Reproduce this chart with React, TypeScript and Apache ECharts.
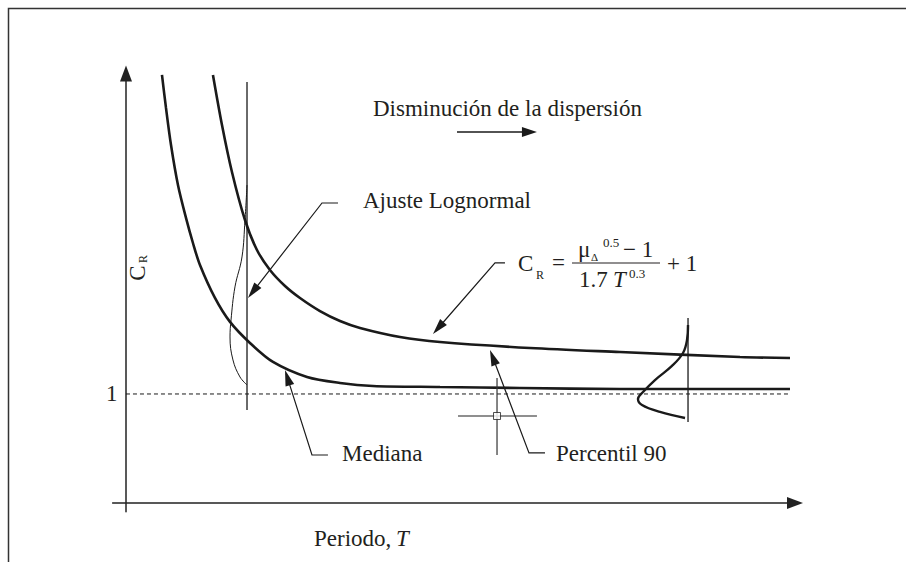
import React, { useEffect, useRef } from "react";
import * as echarts from "echarts";

// Curves in (period T, C_R) units
const medianCurve: number[][] = [
  [0.538, 3.927], [0.598, 3.624], [0.673, 3.284], [0.777, 2.917], [0.897, 2.615],
  [1.001, 2.385], [1.106, 2.183], [1.33, 1.881], [1.555, 1.661], [1.853, 1.468],
  [2.197, 1.294], [2.706, 1.156], [3.199, 1.101], [3.692, 1.073], [4.694, 1.064],
  [5.889, 1.055], [7.384, 1.046], [9.925, 1.046],
];
const percentile90Curve: number[][] = [
  [1.3, 3.927], [1.435, 3.468], [1.584, 3.037], [1.779, 2.596], [1.958, 2.321],
  [2.152, 2.138], [2.377, 1.991], [2.601, 1.881], [2.9, 1.761], [3.199, 1.67],
  [3.498, 1.606], [4.096, 1.523], [4.694, 1.477], [6.039, 1.422], [7.384, 1.385],
  [9.178, 1.339], [9.925, 1.33],
];
const unitLine: number[][] = [[0, 1], [9.925, 1]];
const leftSampleLine: number[][] = [[1.809, 3.862], [1.809, 0.853]];
const leftLognormal: number[][] = [
  [1.809, 2.917], [1.779, 2.596], [1.734, 2.257], [1.629, 1.982], [1.57, 1.679],
  [1.555, 1.523], [1.599, 1.312], [1.704, 1.156], [1.809, 1.083],
];
const rightSampleLine: number[][] = [[8.401, 1.697], [8.401, 0.743]];
const rightLognormal: number[][] = [
  [8.401, 1.633], [8.386, 1.495], [8.326, 1.376], [8.161, 1.257], [7.907, 1.128],
  [7.728, 1.018], [7.653, 0.954], [7.713, 0.899], [7.982, 0.835], [8.356, 0.78],
];
const crossVertical: number[][] = [[5.546, 1.147], [5.546, 0.44]];
const crossHorizontal: number[][] = [[4.963, 0.798], [6.143, 0.798]];
const crossCenter: number[][] = [[5.546, 0.798]];

// Leader lines; the last point of each is the arrow tip
const leaderAjuste: number[][] = [[3.169, 2.752], [2.93, 2.752], [1.824, 1.881]];
const leaderMediana: number[][] = [[3.019, 0.44], [2.78, 0.44], [2.377, 1.22]];
const leaderFormula: number[][] = [[5.665, 2.202], [5.516, 2.202], [4.589, 1.55]];
const leaderPercentil: number[][] = [[6.263, 0.459], [6.024, 0.459], [5.441, 1.404]];
const dispersionArrow: number[][] = [[4.948, 3.404], [6.143, 3.404]];
const leaders = [leaderAjuste, leaderMediana, leaderFormula, leaderPercentil, dispersionArrow];

const yTickLabels = [1];

const INK = "#231f20";
const SERIF = "'Liberation Serif', 'Times New Roman', serif";
const FS = 23;

function txt(text: string, x: number, y: number, size = FS, extra: any = {}) {
  return {
    type: "text",
    x,
    y,
    style: {
      text,
      fontSize: size,
      fontFamily: SERIF,
      fill: INK,
      align: "left",
      verticalAlign: "middle",
      ...extra,
    },
  };
}

function curve(name: string, data: number[][], width: number, extra: any = {}) {
  return {
    name,
    type: "line",
    data,
    symbol: "none",
    smooth: extra.smooth ?? 0,
    lineStyle: { color: "#1a1a1a", width, type: extra.dash ? [4, 3] : "solid" },
    silent: true,
    z: extra.z ?? 3,
  };
}

export default function App() {
  const ref = useRef<HTMLDivElement>(null);

  useEffect(() => {
    if (!ref.current) return;
    const chart = echarts.init(ref.current, null, { renderer: "svg" });

    const option: any = {
      animation: false,
      grid: { left: 112.6, right: 111, top: 73.5, bottom: 50.3 },
      xAxis: {
        type: "value",
        min: -0.2,
        max: 10,
        axisLine: {
          onZero: true,
          lineStyle: { color: "#222", width: 1.5 },
          symbol: ["none", "triangle"],
          symbolSize: [12, 16],
        },
        axisTick: { show: false },
        axisLabel: { show: false },
        splitLine: { show: false },
      },
      yAxis: {
        type: "value",
        min: -0.08,
        max: 3.94,
        axisLine: {
          onZero: true,
          lineStyle: { color: "#222", width: 1.5 },
          symbol: ["none", "triangle"],
          symbolSize: [12, 16],
        },
        axisTick: { show: false },
        axisLabel: {
          show: true,
          customValues: yTickLabels,
          formatter: (v: number) => String(v),
          margin: -5,
          fontSize: FS,
          fontFamily: SERIF,
          color: INK,
        },
        splitLine: { show: false },
      },
      series: [
        curve("Mediana", medianCurve, 2.6, { smooth: 0.3 }),
        curve("Percentil 90", percentile90Curve, 2.6, { smooth: 0.3 }),
        curve("C_R = 1", unitLine, 1, { dash: true, z: 2 }),
        curve("Muestra T1", leftSampleLine, 1.3),
        curve("Ajuste T1", leftLognormal, 1, { smooth: 0.4 }),
        curve("Muestra T2", rightSampleLine, 1.3),
        curve("Ajuste T2", rightLognormal, 2.4, { smooth: 0.4 }),
        {
          type: "line",
          data: crossVertical,
          symbol: "none",
          lineStyle: { color: "#333", width: 1.2 },
          silent: true,
        },
        {
          type: "line",
          data: crossHorizontal,
          symbol: "none",
          lineStyle: { color: "#6a6a6a", width: 1.5 },
          silent: true,
        },
        {
          type: "scatter",
          data: crossCenter,
          symbol: "rect",
          symbolSize: 7,
          itemStyle: { color: "#fff", borderColor: "#222", borderWidth: 1 },
          silent: true,
          z: 5,
        },
        {
          type: "custom",
          data: leaders.map((p) => p[p.length - 1]),
          silent: true,
          z: 6,
          renderItem: (params: any, api: any) => {
            const path = leaders[params.dataIndex];
            const pts = path.map((p) => api.coord(p));
            const tip = pts[pts.length - 1];
            const prev = pts[pts.length - 2];
            const dx = tip[0] - prev[0];
            const dy = tip[1] - prev[1];
            const len = Math.hypot(dx, dy);
            const ux = dx / len;
            const uy = dy / len;
            const isTitleArrow = params.dataIndex === leaders.length - 1;
            const L = isTitleArrow ? 15 : 16;
            const W = (isTitleArrow ? 10 : 9) / 2;
            const base = [tip[0] - ux * L, tip[1] - uy * L];
            const left = [base[0] - uy * W, base[1] + ux * W];
            const right = [base[0] + uy * W, base[1] - ux * W];
            return {
              type: "group",
              children: [
                {
                  type: "polyline",
                  shape: { points: [...pts.slice(0, -1), [tip[0] - ux * 4, tip[1] - uy * 4]] },
                  style: { stroke: "#1a1a1a", lineWidth: isTitleArrow ? 1.5 : 1.2, fill: null },
                },
                {
                  type: "polygon",
                  shape: { points: [tip, left, right] },
                  style: { fill: "#1a1a1a" },
                },
              ],
            };
          },
        },
      ],
      graphic: [
        {
          type: "rect",
          shape: { x: 8.5, y: 8.5, width: 1000, height: 1000 },
          style: { fill: "none", stroke: "#333", lineWidth: 1.5 },
          silent: true,
        },
        txt("Disminución de la dispersión", 373, 108),
        txt("Ajuste Lognormal", 363, 200),
        txt("Mediana", 342, 453),
        txt("Percentil 90", 556, 453),
        txt("Periodo,", 314, 538),
        txt("T", 396, 538, FS, { fontStyle: "italic" }),
        // vertical axis title C_R
        {
          type: "group",
          x: 137,
          y: 265,
          rotation: Math.PI / 2,
          children: [
            txt("C", -8, 0, FS, { align: "center" }),
            txt("R", 2, 6, 12),
          ],
        },
        // C_R = (μ_Δ^0.5 − 1) / (1.7 T^0.3) + 1
        txt("C", 518, 263),
        txt("R", 536, 275, 12),
        txt("=", 552, 262),
        txt("μ", 578, 249),
        txt("Δ", 591, 257, 11),
        txt("0.5", 603, 242, 13),
        txt("− 1", 623, 249),
        {
          type: "line",
          shape: { x1: 572, y1: 263, x2: 660, y2: 263 },
          style: { stroke: INK, lineWidth: 1.2 },
        },
        txt("1.7", 579, 279),
        txt("T", 613, 279, FS, { fontStyle: "italic" }),
        txt("0.3", 629, 273, 13),
        txt("+ 1", 667, 263),
      ],
    };

    chart.setOption(option);
    return () => chart.dispose();
  }, []);

  return (
    <div
      ref={ref}
      style={{ position: "fixed", left: 0, top: 0, width: 906, height: 562, background: "#fff" }}
    />
  );
}
